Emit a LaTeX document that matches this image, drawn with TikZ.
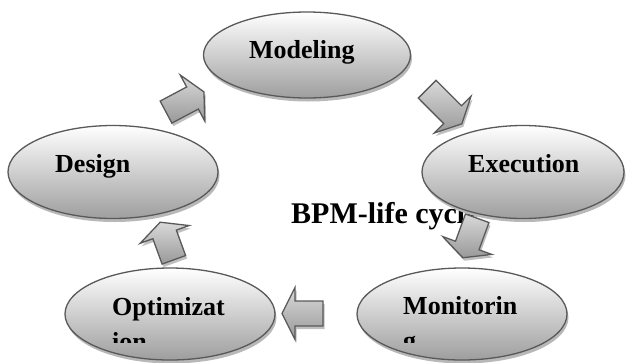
\documentclass[tikz,border=0pt]{standalone}
\usepackage{fontspec}
\setmainfont{Liberation Serif}
\usetikzlibrary{shapes.geometric,shadows}
\newcommand\blockarrow[4]{%
  \begin{scope}[shift={(#1,#2)}, rotate=#3]
    \draw[flow] (-#4/2,-12.5) -- (#4/2-13,-12.5) -- (#4/2-13,-26) -- (#4/2,0)
      -- (#4/2-13,26) -- (#4/2-13,12.5) -- (-#4/2,12.5) -- cycle;
  \end{scope}}
\begin{document}
\begin{tikzpicture}[x=1pt,y=-1pt,
  phase/.style={ellipse, draw=black!65, line width=1.3pt, top color=white, bottom color=black!38,
    inner sep=0pt, drop shadow={shadow xshift=1.5pt, shadow yshift=-3.5pt, opacity=1, fill=black!28}},
  lbl/.style={font=\fontsize{26}{30}\bfseries\selectfont, anchor=base west, inner sep=0pt},
  flow/.style={draw=black!65, line width=1.3pt, line join=miter, top color=white!85!black, bottom color=black!40,
    drop shadow={shadow xshift=1.5pt, shadow yshift=-3pt, opacity=1, fill=black!25}}]
\useasboundingbox (0,0) rectangle (626,362);
% title text (behind the other shapes)
\node[lbl, font=\fontsize{30}{36}\bfseries\selectfont] (title) at (291,223) {BPM-life cycle};
% block arrows
\blockarrow{185}{102}{28}{43}
\blockarrow{444.5}{106.5}{-45}{49}
\blockarrow{470}{238}{-110}{42}
\blockarrow{302.5}{313.5}{180}{41}
\blockarrow{167}{241}{110}{40}
% phases
\node[phase, minimum width=207pt, minimum height=86pt] (mod) at (307,55) {};
\node[phase, minimum width=210pt, minimum height=93pt] (des) at (113,172) {};
\node[phase, minimum width=202pt, minimum height=93pt] (exe) at (523,172) {};
\node[phase, minimum width=210pt, minimum height=92pt] (opt) at (170,314) {};
\node[phase, minimum width=210pt, minimum height=92pt] (mon) at (462,314) {};
% labels
\node[lbl] (modT) at (249,58) {Modeling};
\node[lbl] (desT) at (55,172) {Design};
\node[lbl] (exeT) at (468,172) {Execution};
\begin{scope}
  \clip (0,0) rectangle (626,342);
  \node[lbl] (optT) at (112,315) {Optimizat};
  \node[lbl] (optT2) at (112,350) {ion};
  \node[lbl] (monT) at (403,314) {Monitorin};
  \node[lbl] (monT2) at (403,349) {g};
\end{scope}
\end{tikzpicture}
\end{document}
